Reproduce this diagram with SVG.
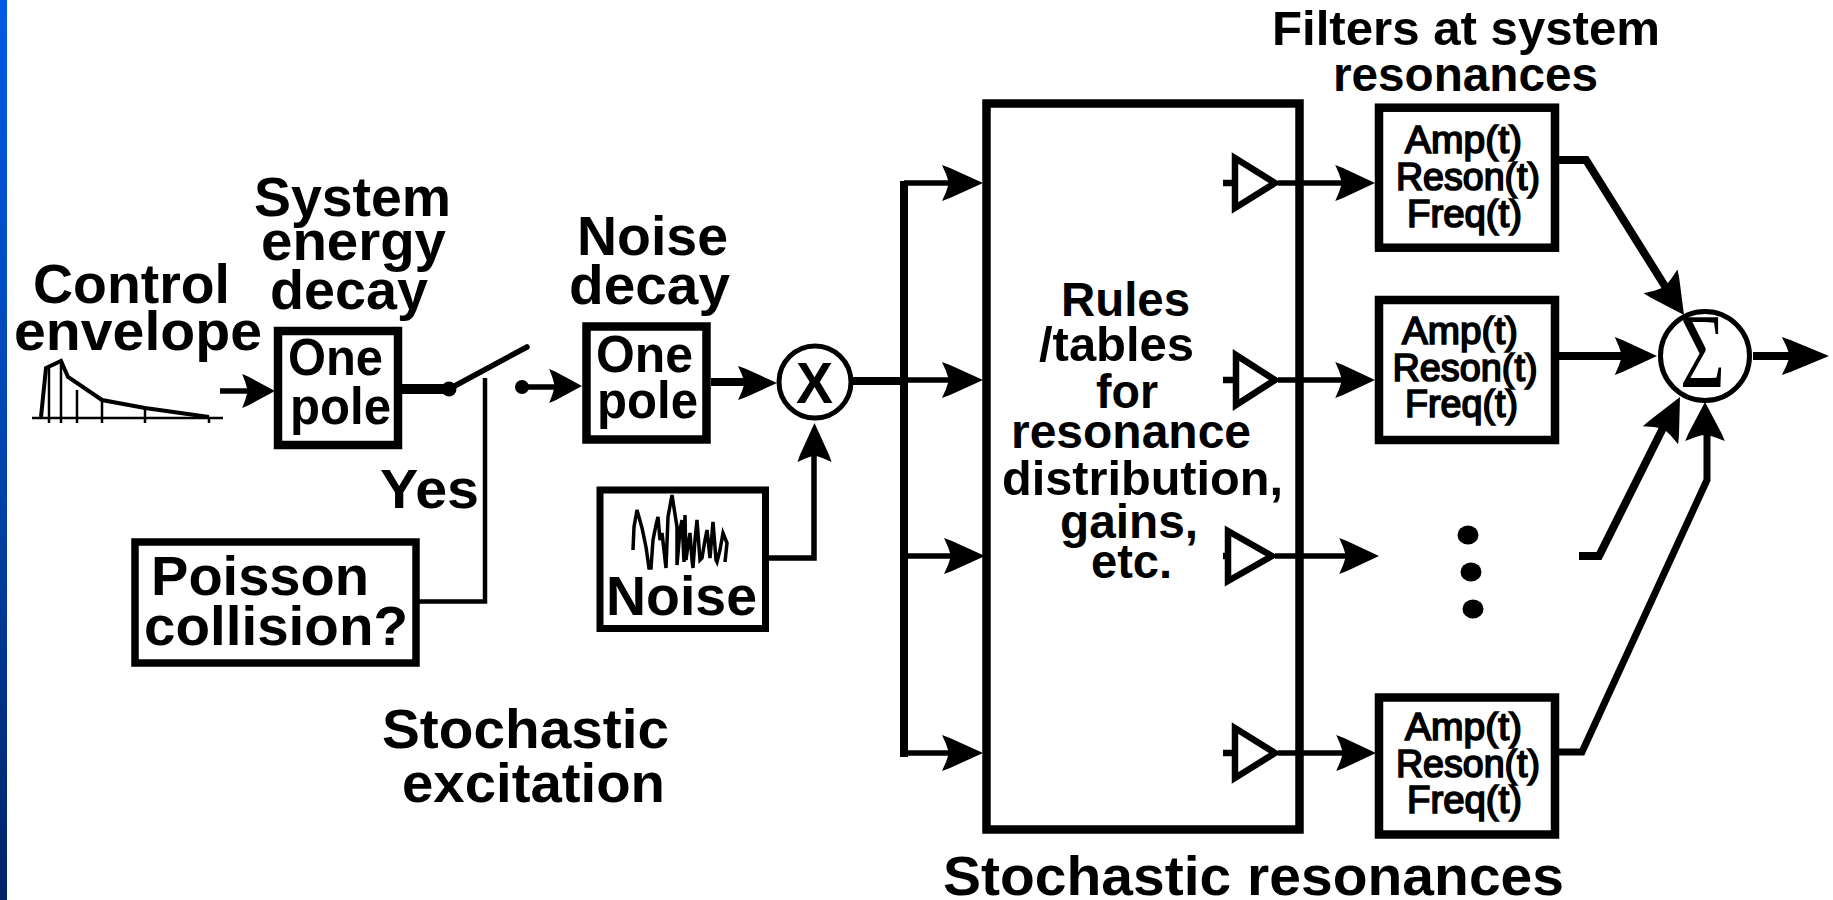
<svg xmlns="http://www.w3.org/2000/svg" width="1833" height="900" viewBox="0 0 1833 900">
<style>
text{font-family:"Liberation Sans",Arial,sans-serif;font-weight:bold;fill:#000}
.box{fill:#fff;stroke:#000;stroke-width:8.5}
.w{fill:none;stroke:#000;stroke-linejoin:miter}
.s3{stroke-width:3.5}.s4{stroke-width:4.5}.s5{stroke-width:5.5}.s8{stroke-width:8}
.amp{fill:none;stroke:#000;stroke-width:6.5}
.t55{font-size:56px}.t50{font-size:52px}.t48{font-size:48px}
.t37{font-size:38px;font-weight:normal;stroke:#000;stroke-width:1.7}
</style>
<defs>
<linearGradient id="bar" x1="0" y1="0" x2="0" y2="1"><stop offset="0" stop-color="#0059e6"/><stop offset="0.5" stop-color="#0045b0"/><stop offset="1" stop-color="#002266"/></linearGradient>
<path id="ah" d="M0 0L-33-15-41-18-37-9-35-3V3L-37 9-41 18-33 15Z"/>
</defs>
<rect width="1833" height="900" fill="#fff"/>
<rect id="edge-bar" x="0" y="0" width="7" height="900" fill="url(#bar)"/>

<g id="connectors">
<path class="w s5" d="M220 391H250"/>
<use href="#ah" transform="translate(275,391) scale(.8,.95)"/>
<path class="w" stroke-width="10" d="M402 389H449"/>
<circle cx="449" cy="389" r="7.5"/>
<path class="w" stroke-width="5.5" stroke-linecap="round" d="M449 389L527 347"/>
<path class="w s4" d="M485 378V601.5H419"/>
<circle cx="522" cy="387" r="7"/>
<path class="w s5" d="M522 387H560"/>
<use href="#ah" transform="translate(582,386) scale(.8,.95)"/>
<path class="w s8" d="M711 382H750"/>
<use href="#ah" transform="translate(777,383) scale(.95,.95)"/>
<path class="w s5" d="M769 558H814V440"/>
<use href="#ah" transform="translate(814.500,423) rotate(-90) scale(.95,.95)"/>
<path class="w s8" d="M853 381H904"/>
<path class="w" stroke-width="8" d="M904 181V757"/>
<path class="w s5" d="M904 183H960M904 380H960M904 556H960M904 753H960"/>
<use href="#ah" transform="translate(983,183)"/>
<use href="#ah" transform="translate(983,380)"/>
<use href="#ah" transform="translate(985,556)"/>
<use href="#ah" transform="translate(983,753)"/>
<path class="w s5" d="M1278 183H1345M1278 380H1345M1275 556H1350M1278 753H1345"/>
<use href="#ah" transform="translate(1375,183) scale(.97,1)"/>
<use href="#ah" transform="translate(1375,380) scale(.97,1)"/>
<use href="#ah" transform="translate(1379,556) scale(.97,1)"/>
<use href="#ah" transform="translate(1376,753) scale(.97,1)"/>
<path class="w s8" d="M1559 160H1586L1668 291"/>
<use href="#ah" transform="translate(1684,315) rotate(55) scale(1,1.15)"/>
<path class="w s8" d="M1559 356H1630"/>
<use href="#ah" transform="translate(1657,356) scale(1.03,1.05)"/>
<path class="w s8" d="M1579 556H1599L1667 420"/>
<use href="#ah" transform="translate(1680,397) rotate(-63) scale(1.05,1.1)"/>
<path class="w" stroke-width="7" d="M1559 752H1582L1707 480V425"/>
<use href="#ah" transform="translate(1705,402) rotate(-90) scale(.95,1.1)"/>
<path class="w s8" d="M1753 356H1800"/>
<use href="#ah" transform="translate(1829,356) scale(1.15,1.05)"/>
</g>

<g id="control-envelope">
<text class="t55" x="33" y="303" textLength="197" lengthAdjust="spacingAndGlyphs">Control</text>
<text class="t55" x="14" y="350" textLength="248" lengthAdjust="spacingAndGlyphs">envelope</text>
<path class="w" stroke-width="2.500" d="M32 418H223M49 368V423M61 361V423M77 390V423M102 400V423M145 408V423M209 417V423"/>
<path class="w" stroke-width="4" d="M41 417L46 368L61 361L68 377L102 400L145 408L209 417"/>
</g>
<g id="system-energy-decay">
<text class="t55" x="254" y="216" textLength="197" lengthAdjust="spacingAndGlyphs">System</text>
<text class="t55" x="261" y="260" textLength="185" lengthAdjust="spacingAndGlyphs">energy</text>
<text class="t55" x="270" y="309" textLength="158" lengthAdjust="spacingAndGlyphs">decay</text>
</g>
<g id="one-pole-1">
<rect class="box" x="278" y="331" width="120" height="114"/>
<text class="t50" x="288" y="375" textLength="95" lengthAdjust="spacingAndGlyphs">One</text>
<text class="t50" x="290" y="424" textLength="101" lengthAdjust="spacingAndGlyphs">pole</text>
</g>
<g id="yes-label"><text class="t55" x="380" y="508" textLength="99" lengthAdjust="spacingAndGlyphs">Yes</text></g>
<g id="poisson">
<rect class="box" x="135" y="542" width="281" height="121" style="stroke-width:7.5"/>
<text class="t55" x="151" y="595" textLength="218" lengthAdjust="spacingAndGlyphs">Poisson</text>
<text class="t55" x="144" y="645" textLength="264" lengthAdjust="spacingAndGlyphs">collision?</text>
</g>
<g id="stochastic-excitation">
<text class="t55" x="382" y="748" textLength="287" lengthAdjust="spacingAndGlyphs">Stochastic</text>
<text class="t55" x="402" y="802" textLength="263" lengthAdjust="spacingAndGlyphs">excitation</text>
</g>
<g id="noise-decay">
<text class="t55" x="577" y="255" textLength="151" lengthAdjust="spacingAndGlyphs">Noise</text>
<text class="t55" x="569" y="304" textLength="161" lengthAdjust="spacingAndGlyphs">decay</text>
</g>
<g id="one-pole-2">
<rect class="box" x="586.500" y="326.500" width="120" height="113"/>
<text class="t50" x="596" y="372" textLength="97" lengthAdjust="spacingAndGlyphs">One</text>
<text class="t50" x="597" y="418" textLength="101" lengthAdjust="spacingAndGlyphs">pole</text>
</g>
<g id="noise">
<rect class="box" x="600" y="490" width="165.500" height="138.500" style="stroke-width:7"/>
<polyline class="w s3" points="633,550 634,527 637,510 642,528 646,547 649,568 651,568 653,540 656,525 658,517 660,540 662,533 666,568 668,517 672,495 677,527 677,565 680,530 682,520 684,562 685,515 686,560 688,545 690,533 692,560 693,568 695,540 697,520 700,560 702,558 705,540 707,530 710,558 713,522 716,560 717,562 720,550 723,533 727,543 725,562"/>
<text class="t55" x="606" y="615" textLength="151" lengthAdjust="spacingAndGlyphs">Noise</text>
</g>
<g id="multiplier">
<circle cx="815" cy="382" r="36" fill="#fff" stroke="#000" stroke-width="5"/>
<text x="796" y="403" font-size="58" textLength="37" lengthAdjust="spacingAndGlyphs">X</text>
</g>
<g id="rules-box">
<rect class="box" x="986.500" y="103.500" width="313" height="726" style="fill:none"/>
<text class="t48" x="1061" y="316" textLength="129" lengthAdjust="spacingAndGlyphs">Rules</text>
<text class="t48" x="1039" y="361" textLength="155" lengthAdjust="spacingAndGlyphs">/tables</text>
<text class="t48" x="1096" y="408" textLength="62" lengthAdjust="spacingAndGlyphs">for</text>
<text class="t48" x="1011" y="448" textLength="240" lengthAdjust="spacingAndGlyphs">resonance</text>
<text class="t48" x="1002" y="495" textLength="281" lengthAdjust="spacingAndGlyphs">distribution,</text>
<text class="t48" x="1060" y="538" textLength="138" lengthAdjust="spacingAndGlyphs">gains,</text>
<text class="t48" x="1091" y="578" textLength="81" lengthAdjust="spacingAndGlyphs">etc.</text>
</g>
<g id="gain-1"><path class="amp" d="M1223 183H1235M1235 158V208L1275 183Z"/></g>
<g id="gain-2"><path class="amp" d="M1223 380H1236M1236 355V405L1275 380Z"/></g>
<g id="gain-3"><path class="amp" d="M1223 556H1228M1228 531V581L1272 556Z"/></g>
<g id="gain-4"><path class="amp" d="M1223 753H1235M1235 728V778L1275 753Z"/></g>
<g id="filter-1">
<rect class="box" x="1379" y="107.700" width="176" height="140"/>
<text class="t37" x="1405" y="153" textLength="117" lengthAdjust="spacingAndGlyphs">Amp(t)</text>
<text class="t37" x="1396" y="190" textLength="144" lengthAdjust="spacingAndGlyphs">Reson(t)</text>
<text class="t37" x="1407" y="227" textLength="115" lengthAdjust="spacingAndGlyphs">Freq(t)</text>
</g>
<g id="filter-2">
<rect class="box" x="1379" y="300" width="176" height="140"/>
<text class="t37" x="1402" y="344" textLength="116" lengthAdjust="spacingAndGlyphs">Amp(t)</text>
<text class="t37" x="1392.500" y="381" textLength="145" lengthAdjust="spacingAndGlyphs">Reson(t)</text>
<text class="t37" x="1405" y="417" textLength="113" lengthAdjust="spacingAndGlyphs">Freq(t)</text>
</g>
<g id="filter-3">
<rect class="box" x="1379" y="697.500" width="176" height="137"/>
<text class="t37" x="1405" y="740" textLength="117" lengthAdjust="spacingAndGlyphs">Amp(t)</text>
<text class="t37" x="1396" y="777" textLength="144" lengthAdjust="spacingAndGlyphs">Reson(t)</text>
<text class="t37" x="1407" y="813" textLength="115" lengthAdjust="spacingAndGlyphs">Freq(t)</text>
</g>
<g id="ellipsis">
<ellipse cx="1468" cy="535" rx="10.500" ry="9.500"/>
<ellipse cx="1471" cy="572" rx="10.500" ry="9.500"/>
<ellipse cx="1473" cy="609" rx="10.500" ry="9.500"/>
</g>
<g id="summer">
<circle cx="1705" cy="356" r="44.500" fill="#fff" stroke="#000" stroke-width="5"/>
<text x="1680" y="387" font-size="106" textLength="45" lengthAdjust="spacingAndGlyphs" style="font-family:'Liberation Serif',serif;font-weight:normal">Σ</text>
</g>
<g id="headings">
<text class="t48" x="1272" y="45" textLength="388" lengthAdjust="spacingAndGlyphs">Filters at system</text>
<text class="t48" x="1333" y="91" textLength="265" lengthAdjust="spacingAndGlyphs">resonances</text>
<text class="t55" x="943" y="895" textLength="621" lengthAdjust="spacingAndGlyphs">Stochastic resonances</text>
</g>
</svg>
